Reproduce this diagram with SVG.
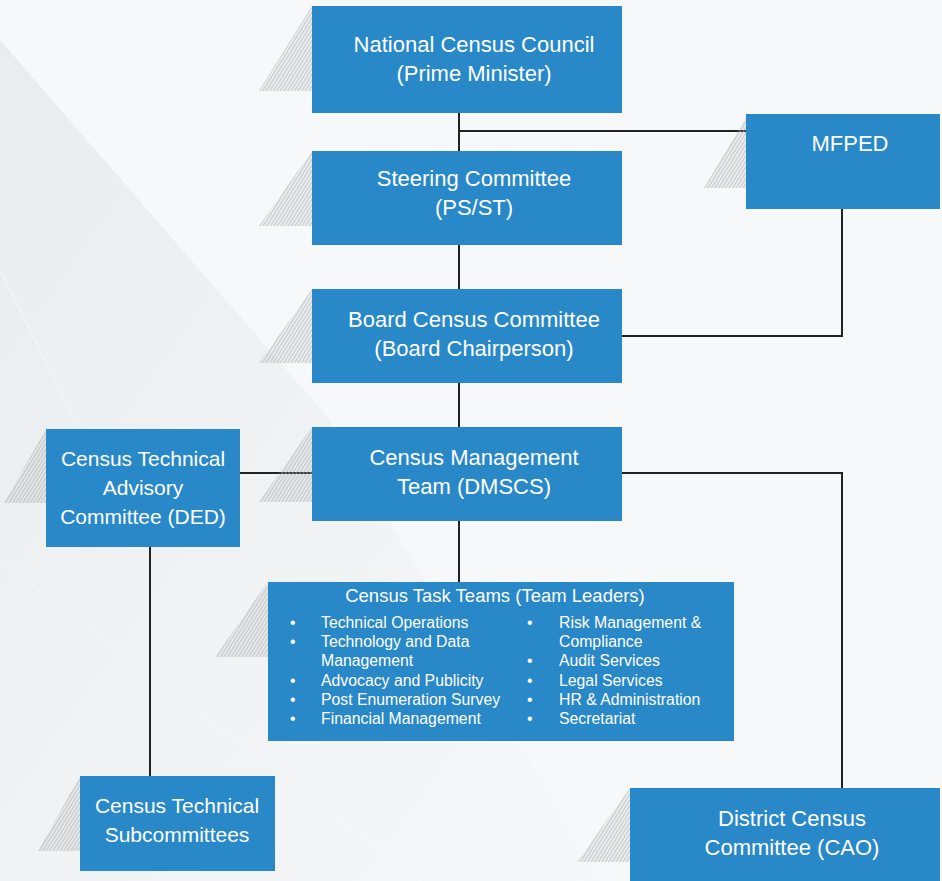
<svg xmlns="http://www.w3.org/2000/svg" width="942" height="881" viewBox="0 0 942 881">
<defs>
<linearGradient id="bgGrad" x1="0" y1="0" x2="1" y2="1">
<stop offset="0" stop-color="#e3e7ea"/>
<stop offset="0.6" stop-color="#eff1f3"/>
<stop offset="1" stop-color="#f6f7f8"/>
</linearGradient>
<pattern id="hatch" width="3" height="3" patternUnits="userSpaceOnUse" patternTransform="rotate(32)">
<line x1="1" y1="0" x2="1" y2="3" stroke="#acaeb0" stroke-width="1"/>
</pattern>
<style>
.box{fill:#2888c8}
.hatch{fill:url(#hatch)}
.t{font-family:"Liberation Sans",Arial,sans-serif;font-size:22px;fill:#ffffff;text-anchor:middle}
.ts{font-size:21px}
.tt{font-family:"Liberation Sans",Arial,sans-serif;font-size:18.5px;fill:#ffffff;text-anchor:middle}
.li{font-family:"Liberation Sans",Arial,sans-serif;font-size:15.8px;fill:#ffffff}
.conn{stroke:#222222;stroke-width:2;fill:none}
</style>
</defs>
<rect x="0" y="0" width="942" height="881" fill="#f7f8f9"/>
<polygon points="0,40 330,420 600,881 0,881" fill="url(#bgGrad)" opacity="0.7"/>
<line x1="0" y1="270" x2="75" y2="420" stroke="#ffffff" stroke-width="1" opacity="0.7"/>
<line x1="0" y1="560" x2="420" y2="881" stroke="#ffffff" stroke-width="1" opacity="0.5"/>
<line x1="610" y1="770" x2="640" y2="881" stroke="#ffffff" stroke-width="1" opacity="0.7"/>

<g id="connectors">
<path class="conn" d="M459,113 V151 M459,245 V289 M459,383 V427 M459,521 V582"/>
<path class="conn" d="M459,131 H746"/>
<path class="conn" d="M842,208 V336 H622"/>
<path class="conn" d="M240,473 H312"/>
<path class="conn" d="M622,473 H842 V788"/>
<path class="conn" d="M150,547 V776"/>
</g>

<g id="national-census-council">
<polygon class="hatch" points="312,6 259,91 312,91"/>
<rect class="box" x="312" y="6" width="310" height="107"/>
<text class="t" x="474" y="52">National Census Council</text>
<text class="t" x="474" y="81">(Prime Minister)</text>
</g>

<g id="mfped">
<polygon class="hatch" points="746,117 704,188 746,188"/>
<rect class="box" x="746" y="114" width="194" height="95"/>
<text class="t" x="850" y="151">MFPED</text>
</g>

<g id="steering-committee">
<polygon class="hatch" points="312,151 259,226 312,226"/>
<rect class="box" x="312" y="151" width="310" height="94"/>
<text class="t" x="474" y="186">Steering Committee</text>
<text class="t" x="474" y="215">(PS/ST)</text>
</g>

<g id="board-census-committee">
<polygon class="hatch" points="312,289 259,363 312,363"/>
<rect class="box" x="312" y="289" width="310" height="94"/>
<text class="t" x="474" y="327">Board Census Committee</text>
<text class="t" x="474" y="356">(Board Chairperson)</text>
</g>

<g id="census-management-team">
<polygon class="hatch" points="312,427 259,502 312,502"/>
<rect class="box" x="312" y="427" width="310" height="94"/>
<text class="t" x="474" y="465">Census Management</text>
<text class="t" x="474" y="494">Team (DMSCS)</text>
</g>

<g id="census-technical-advisory-committee">
<polygon class="hatch" points="46,429 4,503 46,503"/>
<rect class="box" x="46" y="429" width="194" height="118"/>
<text class="t ts" x="143" y="466">Census Technical</text>
<text class="t ts" x="143" y="495">Advisory</text>
<text class="t ts" x="143" y="524">Committee (DED)</text>
</g>

<g id="census-task-teams">
<polygon class="hatch" points="268,582 215,657 268,657"/>
<rect class="box" x="268" y="582" width="466" height="159"/>
<text class="tt" x="495" y="602">Census Task Teams (Team Leaders)</text>
<g class="li">
<text x="290" y="628">•</text><text x="321" y="628">Technical Operations</text>
<text x="290" y="647">•</text><text x="321" y="647">Technology and Data</text>
<text x="321" y="666">Management</text>
<text x="290" y="686">•</text><text x="321" y="686">Advocacy and Publicity</text>
<text x="290" y="705">•</text><text x="321" y="705">Post Enumeration Survey</text>
<text x="290" y="724">•</text><text x="321" y="724">Financial Management</text>
<text x="527" y="628">•</text><text x="559" y="628">Risk Management &amp;</text>
<text x="559" y="647">Compliance</text>
<text x="527" y="666">•</text><text x="559" y="666">Audit Services</text>
<text x="527" y="686">•</text><text x="559" y="686">Legal Services</text>
<text x="527" y="705">•</text><text x="559" y="705">HR &amp; Administration</text>
<text x="527" y="724">•</text><text x="559" y="724">Secretariat</text>
</g>
</g>

<g id="census-technical-subcommittees">
<polygon class="hatch" points="80,776 38,851 80,851"/>
<rect class="box" x="80" y="776" width="195" height="95"/>
<text class="t ts" x="177" y="813">Census Technical</text>
<text class="t ts" x="177" y="842">Subcommittees</text>
</g>

<g id="district-census-committee">
<polygon class="hatch" points="630,788 577,862 630,862"/>
<rect class="box" x="630" y="788" width="310" height="93"/>
<text class="t" x="792" y="826">District Census</text>
<text class="t" x="792" y="855">Committee (CAO)</text>
</g>
</svg>
